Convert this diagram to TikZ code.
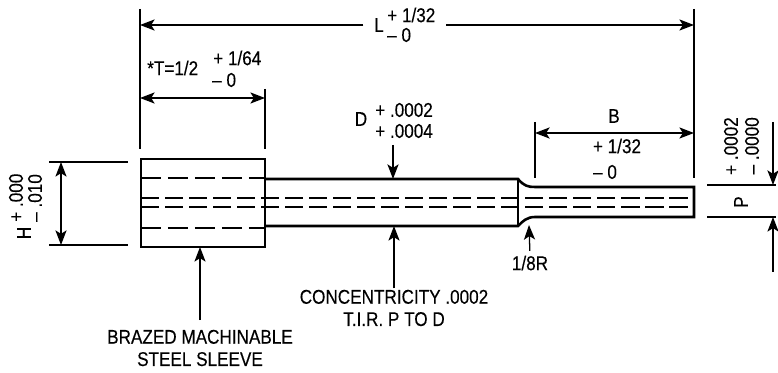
\documentclass[tikz,border=0pt]{standalone}
\usepackage{fontspec}
\setmainfont[FakeStretch=0.86, FakeBold=0.25]{Liberation Sans}
\usepackage{tikz}
\usetikzlibrary{arrows.meta}
\begin{document}
\begin{tikzpicture}[x = 0.03cm, y = -0.03cm, >={Stealth[length = 12.5pt, width = 9.5pt, inset = 3pt]},
    outline/.style = {line width = 2.2pt},
    dimline/.style = {line width = 1.1pt},
    hidden/.style = {line width = 1.2pt, dash pattern = on 15.5pt off 5pt},
    hiddenwide/.style = {line width = 1.2pt, dash pattern = on 17pt off 6pt},
    lbl/.style = {inner sep = 0pt, font = \fontsize{17}{19}\selectfont, align = center}]
      \useasboundingbox (0,0) rectangle (778,373);
      % named points
      \coordinate (extLa) at (140,9);   \coordinate (extLb) at (140,149);
      \coordinate (extRa) at (694,9);   \coordinate (extRb) at (694,178);
      \coordinate (extTa) at (265,89);  \coordinate (extTb) at (265,149);
      \coordinate (extBa) at (535,122); \coordinate (extBb) at (535,178);
      \coordinate (dimLa) at (140,25);  \coordinate (dimLb) at (694,25);
      \coordinate (dimTa) at (140,98);  \coordinate (dimTb) at (265,98);
      \coordinate (dimBa) at (535,133); \coordinate (dimBb) at (694,133);
      \coordinate (extHa) at (49,162);  \coordinate (extHb) at (128,162);
      \coordinate (extHc) at (49,245);  \coordinate (extHd) at (128,245);
      \coordinate (dimHa) at (61,162);  \coordinate (dimHb) at (61,245);
      \coordinate (extPa) at (707,185); \coordinate (extPb) at (776,185);
      \coordinate (extPc) at (707,217); \coordinate (extPd) at (776,217);
      \coordinate (dimPa) at (773,122); \coordinate (dimPb) at (773,185);
      \coordinate (dimPc) at (773,272); \coordinate (dimPd) at (773,217);
      \coordinate (shaftTop) at (393,179); \coordinate (shaftTail) at (393,145);
      \coordinate (shaftLow) at (394,226);
      \coordinate (sleeveLow) at (200,247);
      \coordinate (neckLow) at (529,225);
      % part
      \draw[outline] (141,159) rectangle (265,247);
      \draw[outline] (265,179) -- (518,179) .. controls (524,186) and (528,187) .. (535,187) -- (694,187)
                     -- (694,217) -- (535,217) .. controls (527,217) and (523,221) .. (518,226) -- (265,226);
      \draw[outline] (518,179) -- (518,226);
      \draw[hiddenwide] (141,178) -- (265,178);
      \draw[hiddenwide] (141,228) -- (265,228);
      \draw[hidden] (141,198) -- (694,198);
      \draw[hidden] (141,207) -- (694,207);
      % labels
      \node[lbl] (Lname) at (379,25) {L};
      \node[lbl, anchor = west] (Lplus) at (387,15) {+ 1/32};
      \node[lbl, anchor = west] (Lminus) at (387,35) {-- 0};
      \node[lbl, anchor = west] (Tname) at (147,68) {*T=1/2};
      \node[lbl, anchor = west] (Tplus) at (213,58) {+ 1/64};
      \node[lbl, anchor = west] (Tminus) at (212,80) {-- 0};
      \node[lbl] (Dname) at (361,119) {D};
      \node[lbl, anchor = west] (Dplus) at (375,110) {+ .0002};
      \node[lbl, anchor = west] (Dminus) at (375,131) {+ .0004};
      \node[lbl] (Bname) at (614,116) {B};
      \node[lbl] (Bplus) at (617,146) {+ 1/32};
      \node[lbl] (Bminus) at (605,172) {-- 0};
      \node[lbl] (radius) at (530,263) {1/8R};
      \node[lbl] (concentricity) at (394,308) {CONCENTRICITY .0002\\T.I.R. P TO D};
      \node[lbl] (sleeve) at (200,348) {BRAZED MACHINABLE\\STEEL SLEEVE};
      \node[lbl, rotate = 90] (Hname) at (24,233) {H};
      \node[lbl, rotate = 90, anchor = west] (Hplus) at (16,222) {+ .000};
      \node[lbl, rotate = 90, anchor = west] (Hminus) at (35,222) {-- .010};
      \node[lbl, rotate = 90] (Pname) at (741,202) {P};
      \node[lbl, rotate = 90, anchor = east] (Pplus) at (731,117) {+ .0002};
      \node[lbl, rotate = 90, anchor = east] (Pminus) at (752,117) {-- .0000};
      % dimensions
      \path[dimline] (extLa) edge (extLb) (extRa) edge (extRb)
                     (extTa) edge (extTb) (extBa) edge (extBb)
                     (extHa) edge (extHb) (extHc) edge (extHd)
                     (extPa) edge (extPb) (extPc) edge (extPd);
      \path[dimline, <->] (dimTa) edge (dimTb) (dimBa) edge (dimBb) (dimHa) edge (dimHb);
      \path[dimline, ->] (Lname) edge[shorten <= 9pt] (dimLa)
                         (Lplus.east |- dimLa) edge[shorten <= 9pt] (dimLb)
                         (dimPa) edge (dimPb) (dimPc) edge (dimPd)
                         (shaftTail) edge (shaftTop);
      \path[dimline, ->] (concentricity.north) edge[shorten <= 1pt] (shaftLow)
                         (sleeve.north) edge[shorten <= 8pt] (sleeveLow)
                         (radius.north) edge[shorten <= 4pt] (neckLow);
\end{tikzpicture}
\end{document}
